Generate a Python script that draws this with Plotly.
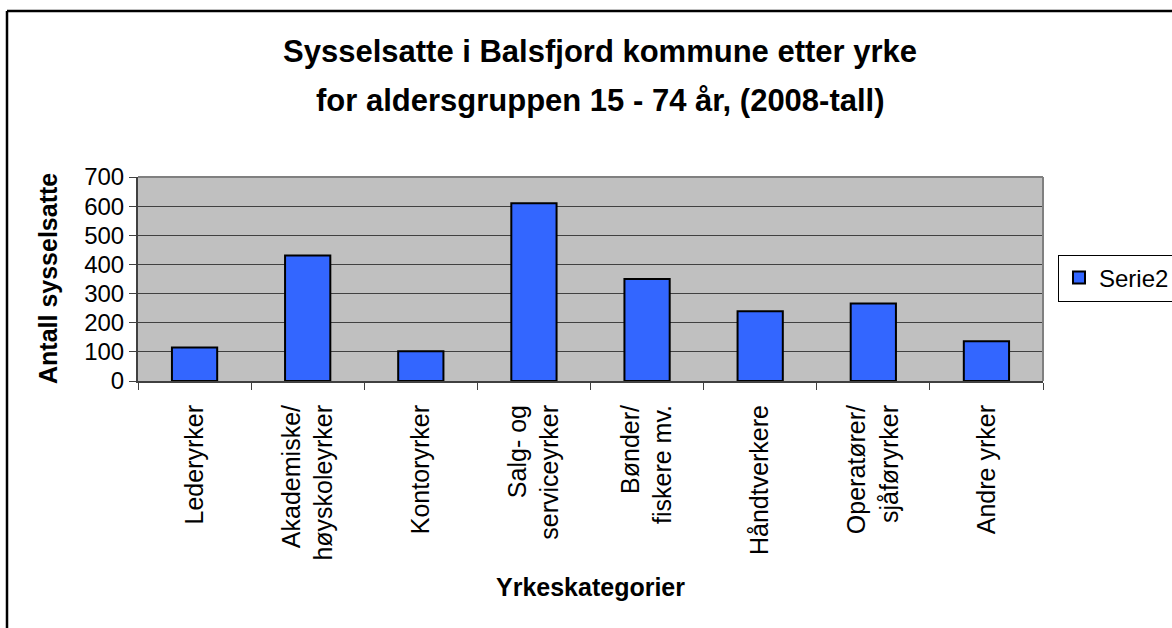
import plotly.graph_objects as go

categories = [
    "Lederyrker",
    "Akademiske/<br>høyskoleyrker",
    "Kontoryrker",
    "Salg- og<br>serviceyrker",
    "Bønder/<br>fiskere mv.",
    "Håndtverkere",
    "Operatører/<br>sjåføryrker",
    "Andre yrker",
]
values = [115, 431, 102, 610, 350, 239, 266, 136]
series_name = "Serie2"
title_lines = ["Sysselsatte i Balsfjord kommune etter yrke",
               "for aldersgruppen 15 - 74 år, (2008-tall)"]
y_title = "Antall sysselsatte"
x_title = "Yrkeskategorier"

W, H = 1172, 628
L, R, T, B = 138, 1043, 177, 381
pw, ph = R - L, B - T

def px(x):
    return (x - L) / pw

def py(y):
    return (B - y) / ph

FONT = "Liberation Sans, Arial, sans-serif"

fig = go.Figure()
fig.add_trace(go.Bar(
    x=categories, y=values, name=series_name,
    marker=dict(color="#3366FF", line=dict(color="#000000", width=2)),
    showlegend=True,
))

fig.update_layout(
    width=W, height=H,
    margin=dict(l=L, r=W - R, t=T, b=H - B, autoexpand=False),
    paper_bgcolor="white",
    plot_bgcolor="#C0C0C0",
    bargap=0.6,
    font=dict(family=FONT, size=24, color="black"),
    showlegend=True,
    legend=dict(
        x=px(1058), y=py(278), xanchor="left", yanchor="middle",
        bgcolor="white", bordercolor="#000000", borderwidth=1,
        font=dict(family=FONT, size=24, color="black"),
    ),
    xaxis=dict(
        type="category",
        showline=True, linecolor="#404040", linewidth=2,
        ticks="outside", ticklen=7, tickcolor="#404040", tickwidth=1,
        tickson="boundaries",
        tickangle=-90,
        ticklabelstandoff=12,
        tickfont=dict(family=FONT, size=25, color="black"),
        showgrid=False,
    ),
    yaxis=dict(
        range=[0, 700], dtick=100,
        showline=True, linecolor="#404040", linewidth=2,
        ticks="outside", ticklen=7, tickcolor="#404040",
        tickfont=dict(family=FONT, size=24, color="black"),
        showgrid=True, gridcolor="#404040", gridwidth=1,
        zeroline=False,
    ),
)

ann = [
    dict(text="<b>%s</b>" % title_lines[0], x=px(600), y=py(52)),
    dict(text="<b>%s</b>" % title_lines[1], x=px(600), y=py(100)),
]
for a in ann:
    fig.add_annotation(xref="paper", yref="paper", showarrow=False,
                       xanchor="center", yanchor="middle",
                       font=dict(family=FONT, size=31, color="black"), **a)

fig.add_annotation(text="<b>%s</b>" % y_title, xref="paper", yref="paper",
                   x=px(48), y=0.5, textangle=-90, showarrow=False,
                   xanchor="center", yanchor="middle",
                   font=dict(family=FONT, size=25, color="black"))
fig.add_annotation(text="<b>%s</b>" % x_title, xref="paper", yref="paper",
                   x=px(590), y=py(587), showarrow=False,
                   xanchor="center", yanchor="middle",
                   font=dict(family=FONT, size=25, color="black"))

# plot-area border (top/right)
fig.add_shape(type="line", xref="paper", yref="paper", x0=0, x1=1, y0=1, y1=1,
              line=dict(color="#808080", width=2), layer="above")
fig.add_shape(type="line", xref="paper", yref="paper", x0=1, x1=1, y0=0, y1=1,
              line=dict(color="#808080", width=2), layer="above")
# outer chart frame (left and top edges visible)
fig.add_shape(type="line", xref="paper", yref="paper",
              x0=px(7), x1=px(7), y0=py(H + 5), y1=py(11),
              line=dict(color="black", width=2.5))
fig.add_shape(type="line", xref="paper", yref="paper",
              x0=px(7), x1=px(W + 5), y0=py(11), y1=py(11),
              line=dict(color="black", width=2.5))

fig.write_html("out.html",
               config={"displayModeBar": False},
               post_script="document.body.style.margin='0';document.body.style.padding='0';")
